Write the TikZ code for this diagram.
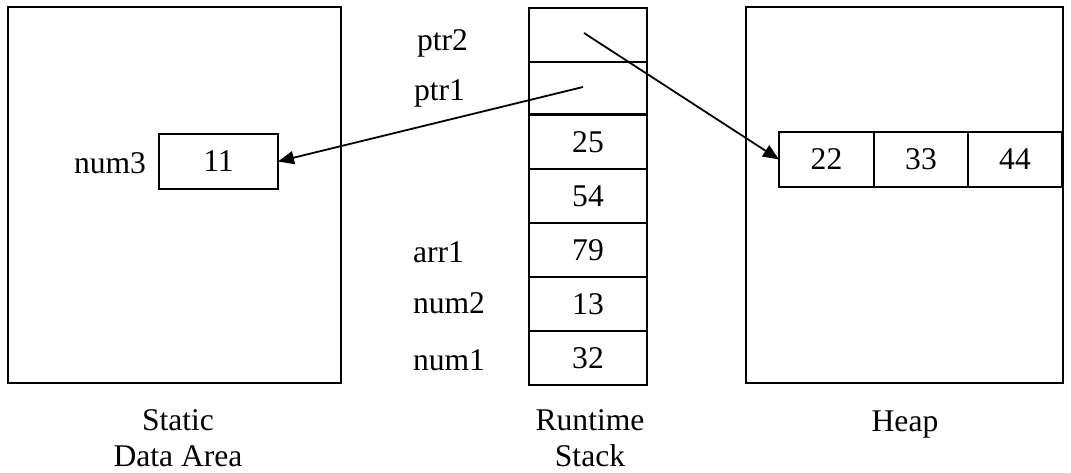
\documentclass[tikz,border=0pt]{standalone}
\usepackage{fontspec}
\setmainfont{Liberation Serif}
\usetikzlibrary{arrows.meta}
\begin{document}
\begin{tikzpicture}[x=0.5pt,y=-0.5pt,
  font=\fontsize{15.8}{18}\selectfont,
  line width=1pt,
  area/.style={draw, inner sep=0pt, outer sep=0pt, minimum width=#1},
  cell/.style={draw, inner sep=0pt, outer sep=0pt, minimum height=27.5pt, minimum width=#1},
  lbl/.style={anchor=base west, inner sep=0pt},
  caption/.style={align=center, inner sep=0pt},
  ptr/.style={-{Triangle[length=8pt,width=6.5pt]}, line width=0.9pt}]
\useasboundingbox (0,0) rectangle (1071,472);
% big areas
\node[area=166.5pt, minimum height=188pt] (static) at (174.5,195) {};
\node[area=158.5pt, minimum height=188pt] (heap) at (904.5,195) {};
% static data area
\node[cell=59.5pt] (n3) at (218.5,161.5) {11};
\node[lbl] (n3l) at (73,173) {num3};
% heap array
\node[cell=47.5pt] (h22) at (826.5,159.5) {22};
\node[cell=47pt] (h33) at (921,159.5) {33};
\node[cell=47pt] (h44) at (1015,159.5) {44};
% runtime stack
\node[cell=59pt, minimum height=27pt] (sptr2) at (588,35) {};
\node[cell=59pt, minimum height=26pt] (sptr1) at (588,88) {};
\node[cell=59pt, minimum height=27pt] (s25) at (588,142) {25};
\node[cell=59pt, minimum height=27pt] (s54) at (588,196) {54};
\node[cell=59pt, minimum height=27pt] (s79) at (588,250) {79};
\node[cell=59pt, minimum height=27pt] (s13) at (588,304) {13};
\node[cell=59pt, minimum height=27pt] (s32) at (588,358) {32};
% stack labels
\node[lbl] (lptr2) at (416,50) {ptr2};
\node[lbl] (lptr1) at (413,100) {ptr1};
\node[lbl] (larr1) at (412,262) {arr1};
\node[lbl] (lnum2) at (412,313) {num2};
\node[lbl] (lnum1) at (412,370) {num1};
% captions
\node[caption] (cstatic) at (178,438) {Static\\Data Area};
\node[caption] (cstack) at (590,438) {Runtime\\Stack};
\node[anchor=base, inner sep=0pt] (cheap) at (905,431) {Heap};
% pointers
\coordinate (p2) at (584,33);
\coordinate (p1) at (583,87);
\draw[ptr] (p2) -- (h22.west);
\draw[ptr] (p1) -- (n3.east);
\end{tikzpicture}
\end{document}
